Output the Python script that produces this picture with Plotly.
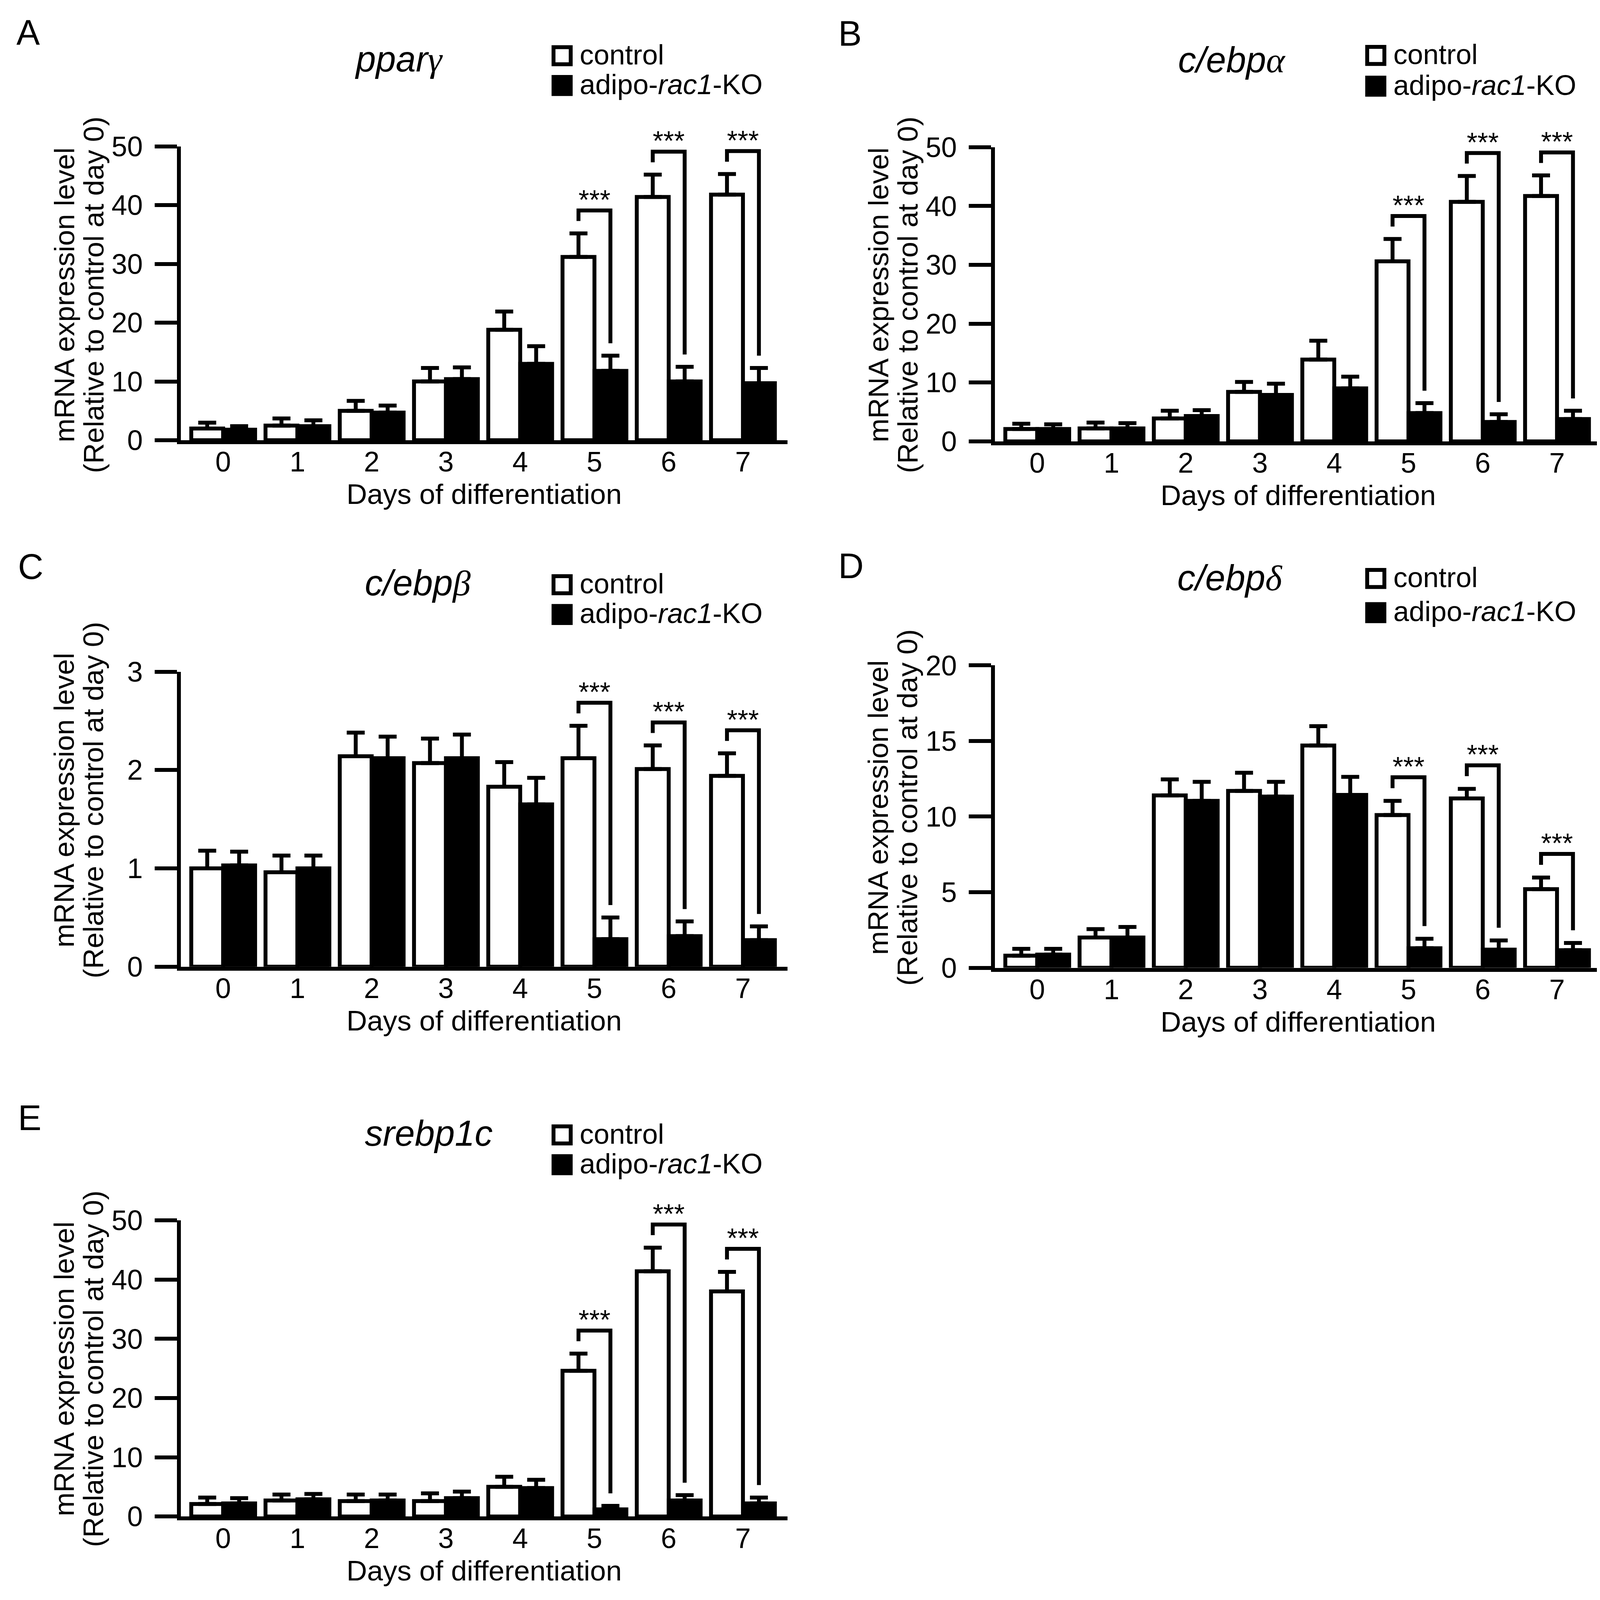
import plotly.graph_objects as go

# values (mean, and upper SEM bar length)
days = [0, 1, 2, 3, 4, 5, 6, 7]
day_labels = ["0", "1", "2", "3", "4", "5", "6", "7"]

ppar_ctrl = [2.0, 2.5, 5.0, 10.0, 18.8, 31.2, 41.4, 41.8]
ppar_ctrl_sem = [1.0, 1.2, 1.7, 2.3, 3.1, 4.0, 3.8, 3.5]
ppar_ko = [1.8, 2.4, 4.7, 10.4, 13.0, 11.8, 10.0, 9.7]
ppar_ko_sem = [0.6, 1.0, 1.2, 2.0, 3.0, 2.6, 2.5, 2.6]

cebpa_ctrl = [2.1, 2.2, 3.9, 8.4, 13.9, 30.6, 40.7, 41.7]
cebpa_ctrl_sem = [0.9, 1.0, 1.3, 1.7, 3.2, 3.8, 4.4, 3.5]
cebpa_ko = [2.1, 2.2, 4.3, 7.9, 9.0, 4.8, 3.3, 3.8]
cebpa_ko_sem = [0.8, 0.9, 1.0, 1.9, 2.0, 1.7, 1.3, 1.4]

cebpb_ctrl = [1.00, 0.96, 2.14, 2.07, 1.83, 2.12, 2.01, 1.94]
cebpb_ctrl_sem = [0.18, 0.17, 0.24, 0.25, 0.25, 0.33, 0.24, 0.23]
cebpb_ko = [1.03, 1.00, 2.12, 2.12, 1.65, 0.28, 0.31, 0.27]
cebpb_ko_sem = [0.14, 0.13, 0.22, 0.24, 0.27, 0.22, 0.15, 0.14]

cebpd_ctrl = [0.8, 2.0, 11.4, 11.7, 14.7, 10.1, 11.2, 5.2]
cebpd_ctrl_sem = [0.45, 0.56, 1.06, 1.2, 1.28, 0.94, 0.63, 0.77]
cebpd_ko = [0.87, 2.0, 11.04, 11.32, 11.43, 1.29, 1.2, 1.16]
cebpd_ko_sem = [0.38, 0.7, 1.26, 0.98, 1.2, 0.63, 0.61, 0.48]

srebp_ctrl = [2.1, 2.7, 2.6, 2.6, 5.0, 24.6, 41.4, 38.0]
srebp_ctrl_sem = [1.1, 1.0, 1.1, 1.3, 1.7, 2.9, 4.0, 3.3]
srebp_ko = [2.2, 2.9, 2.7, 3.1, 4.8, 1.2, 2.7, 2.2]
srebp_ko_sem = [0.9, 0.9, 1.0, 1.1, 1.4, 0.6, 0.9, 1.0]

sig_days = [5, 6, 7]
sig_label = "***"

FONT = "Liberation Sans, Arial, sans-serif"
GREEK = "<span style=\"font-family:'Liberation Serif'\">%s</span>"

# panel geometry, measured in pixels of the 4146x4277 original
panels = [
    dict(letter="A", gene="<i>ppar" + GREEK % "γ" + "</i>",
         ctrl=ppar_ctrl, ctrl_sem=ppar_ctrl_sem, ko=ppar_ko, ko_sem=ppar_ko_sem,
         ymax=50, dtick=10, left=463, top=390, bottom=1181,
         title_x=906, title_y=155, leg_x=1412, leg_y=(146, 226),
         letter_xy=(40, 83), ytitle_y=790),
    dict(letter="B", gene="<i>c/ebp" + GREEK % "α" + "</i>",
         ctrl=cebpa_ctrl, ctrl_sem=cebpa_ctrl_sem, ko=cebpa_ko, ko_sem=cebpa_ko_sem,
         ymax=50, dtick=10, left=2547, top=392, bottom=1184,
         title_x=3014, title_y=157, leg_x=3495, leg_y=(145, 228),
         letter_xy=(2144, 86), ytitle_y=790),
    dict(letter="C", gene="<i>c/ebp" + GREEK % "β" + "</i>",
         ctrl=cebpb_ctrl, ctrl_sem=cebpb_ctrl_sem, ko=cebpb_ko, ko_sem=cebpb_ko_sem,
         ymax=3, dtick=1, left=463, top=1804, bottom=2598,
         title_x=932, title_y=1565, leg_x=1412, leg_y=(1570, 1650),
         letter_xy=(44, 1522), ytitle_y=2150),
    dict(letter="D", gene="<i>c/ebp" + GREEK % "δ" + "</i>",
         ctrl=cebpd_ctrl, ctrl_sem=cebpd_ctrl_sem, ko=cebpd_ko, ko_sem=cebpd_ko_sem,
         ymax=20, dtick=5, left=2547, top=1787, bottom=2601,
         title_x=3012, title_y=1552, leg_x=3495, leg_y=(1553, 1645),
         letter_xy=(2144, 1520), ytitle_y=2170),
    dict(letter="E", gene="<i>srebp1c</i>",
         ctrl=srebp_ctrl, ctrl_sem=srebp_ctrl_sem, ko=srebp_ko, ko_sem=srebp_ko_sem,
         ymax=50, dtick=10, left=463, top=3281, bottom=4078,
         title_x=932, title_y=3046, leg_x=1412, leg_y=(3051, 3131),
         letter_xy=(44, 3005), ytitle_y=3681),
]

# the page shows up shifted and a little short, so squeeze the layout to fit
FIG_W, FIG_H = 4130, 4090
X_OFF = 8
Y_SCALE, Y_OFF = 0.970, 45

PLOT_W = 1553
XRANGE = [-0.57, 7.6]
BAR_W = 0.43
LW = 10


def fx(px):
    return (px - X_OFF) / FIG_W


def fy(px):
    return 1 - (px * Y_SCALE - Y_OFF) / FIG_H


fig = go.Figure()
annotations = []
shapes = []

for n, p in enumerate(panels):
    suffix = "" if n == 0 else str(n + 1)
    xa, ya = "x" + suffix, "y" + suffix

    for vals, sem, fill, off in [(p["ctrl"], p["ctrl_sem"], "white", -BAR_W),
                                 (p["ko"], p["ko_sem"], "black", 0)]:
        fig.add_trace(go.Bar(
            x=days, y=vals, width=BAR_W, offset=off,
            marker=dict(color=fill, line=dict(color="black", width=LW)),
            error_y=dict(type="data", array=sem, arrayminus=[0] * len(sem),
                         symmetric=False, thickness=LW, width=23, color="black"),
            xaxis=xa, yaxis=ya, showlegend=False, hoverinfo="skip",
        ))

    # significance brackets sit a fixed step above the error bars
    pad = 0.042 * p["ymax"]
    step = 0.036 * p["ymax"]
    for d in sig_days:
        c_top = p["ctrl"][d] + p["ctrl_sem"][d]
        k_top = p["ko"][d] + p["ko_sem"][d]
        top = c_top + pad + step
        fig.add_trace(go.Scatter(
            x=[d - BAR_W / 2, d - BAR_W / 2, d + BAR_W / 2, d + BAR_W / 2],
            y=[c_top + pad, top, top, k_top + pad],
            mode="lines", line=dict(color="black", width=LW),
            xaxis=xa, yaxis=ya, showlegend=False, hoverinfo="skip",
        ))
        annotations.append(dict(
            x=d, y=top, xref=xa, yref=ya, text=sig_label, showarrow=False,
            xanchor="center", yanchor="bottom", yshift=-14,
            font=dict(size=70, family=FONT, color="black"),
        ))

    tickvals = list(range(0, p["ymax"] + 1, p["dtick"]))
    fig.layout["xaxis" + suffix] = dict(
        domain=[fx(p["left"]), fx(p["left"] + PLOT_W)], range=XRANGE,
        anchor=ya, showline=True, linewidth=LW, linecolor="black",
        ticks="", tickvals=days, ticktext=day_labels, ticklabelstandoff=-16,
        tickfont=dict(size=72, family=FONT, color="black"),
        showgrid=False, zeroline=False,
    )
    fig.layout["yaxis" + suffix] = dict(
        domain=[fy(p["bottom"]), fy(p["top"])], range=[0, p["ymax"]],
        anchor=xa, showline=True, linewidth=LW, linecolor="black",
        ticks="outside", ticklen=57, tickwidth=LW, tickcolor="black",
        tickvals=tickvals, ticklabelstandoff=16,
        tickfont=dict(size=72, family=FONT, color="black"),
        showgrid=False, zeroline=False,
    )

    # axis titles
    annotations.append(dict(
        x=fx(p["left"] + PLOT_W / 2), y=fy(p["bottom"] + 145), xref="paper", yref="paper",
        text="Days of differentiation", showarrow=False, xanchor="center", yanchor="middle",
        font=dict(size=73, family=FONT, color="black"),
    ))
    for dx, line in [(-299, "mRNA expression level"), (-224, "(Relative to control at day 0)")]:
        annotations.append(dict(
            x=fx(p["left"] + dx), y=fy(p["ytitle_y"]), xref="paper", yref="paper",
            text=line, textangle=-90, showarrow=False, xanchor="center", yanchor="middle",
            font=dict(size=73, family=FONT, color="black"),
        ))

    # gene name and panel letter
    annotations.append(dict(
        x=fx(p["title_x"]), y=fy(p["title_y"]), xref="paper", yref="paper",
        text=p["gene"], showarrow=False, xanchor="left", yanchor="middle",
        font=dict(size=92, family=FONT, color="black"),
    ))
    annotations.append(dict(
        x=fx(p["letter_xy"][0]), y=fy(p["letter_xy"][1]), xref="paper", yref="paper",
        text=p["letter"], showarrow=False, xanchor="left", yanchor="middle",
        font=dict(size=90, family=FONT, color="black"),
    ))

    # hand-made legend
    for yc, fill, label in [(p["leg_y"][0], "white", "control"),
                            (p["leg_y"][1], "black", "adipo-<i>rac1</i>-KO")]:
        x0 = p["leg_x"] + LW / 2
        shapes.append(dict(
            type="rect", xref="paper", yref="paper",
            x0=fx(x0), x1=fx(x0 + 44), y0=fy(yc - 23), y1=fy(yc + 23),
            fillcolor=fill, line=dict(color="black", width=LW),
        ))
        annotations.append(dict(
            x=fx(p["leg_x"] + 70), y=fy(yc - 3), xref="paper", yref="paper",
            text=label, showarrow=False, xanchor="left", yanchor="middle",
            font=dict(size=72, family=FONT, color="black"),
        ))

fig.update_layout(
    width=FIG_W, height=FIG_H,
    margin=dict(l=0, r=0, t=0, b=0),
    paper_bgcolor="white", plot_bgcolor="white",
    barmode="overlay",
    annotations=annotations, shapes=shapes,
    font=dict(family=FONT, color="black"),
)

fig.write_html("out.html")
